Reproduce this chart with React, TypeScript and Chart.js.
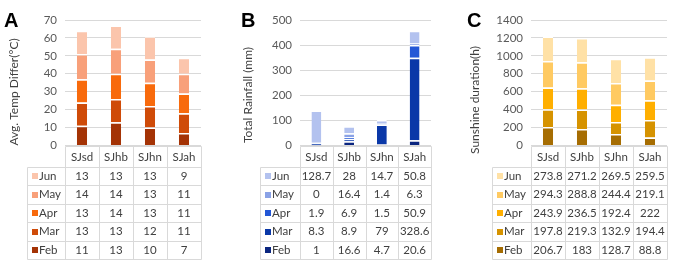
import React, { useEffect, useRef } from 'react';
import { Chart, registerables } from 'chart.js';

Chart.register(...registerables);

// ---- data ----
const stations = ['SJsd', 'SJhb', 'SJhn', 'SJah'];
const months = ['Feb', 'Mar', 'Apr', 'May', 'Jun'];

const tempFeb = [11, 13, 10, 7];
const tempMar = [13, 13, 12, 11];
const tempApr = [13, 14, 13, 11];
const tempMay = [14, 14, 13, 11];
const tempJun = [13, 13, 13, 9];

const rainFeb = [1, 16.6, 4.7, 20.6];
const rainMar = [8.3, 8.9, 79, 328.6];
const rainApr = [1.9, 6.9, 1.5, 50.9];
const rainMay = [0, 16.4, 1.4, 6.3];
const rainJun = [128.7, 28, 14.7, 50.8];

const sunFeb = [206.7, 183, 128.7, 88.8];
const sunMar = [197.8, 219.3, 132.9, 194.4];
const sunApr = [243.9, 236.5, 192.4, 222];
const sunMay = [294.3, 288.8, 244.4, 219.1];
const sunJun = [273.8, 271.2, 269.5, 259.5];

const tempTicks = { max: 70, step: 10 };
const rainTicks = { max: 500, step: 50 };
const sunTicks = { max: 1400, step: 200 };

// ---- styles / layout ----
const FONT = 'Lato, "Noto Sans", sans-serif';
const H = 261;

const panels = [
  {
    letter: 'A',
    title: 'Avg. Temp Differ(°C)',
    series: [tempFeb, tempMar, tempApr, tempMay, tempJun],
    colors: ['#A43305', '#CF4B08', '#F86A0C', '#F8A07A', '#FBC5AC'],
    ticks: tempTicks,
    left: 0, width: 228, plotLeft: 65, plotRight: 201,
    titleX: 14, titleY: 92, letterX: 4, tableLeft: 27,
  },
  {
    letter: 'B',
    title: 'Total Rainfall (mm)',
    series: [rainFeb, rainMar, rainApr, rainMay, rainJun],
    colors: ['#0B2680', '#0A38A8', '#2357D6', '#8AA2E6', '#B3C2EF'],
    ticks: rainTicks,
    left: 228, width: 228, plotLeft: 72, plotRight: 203,
    titleX: 20, titleY: 95, letterX: 13, tableLeft: 32,
  },
  {
    letter: 'C',
    title: 'Sunshine duration(h)',
    series: [sunFeb, sunMar, sunApr, sunMay, sunJun],
    colors: ['#A66D02', '#D69300', '#FFAF00', '#FFCA62', '#FFE1A6'],
    ticks: sunTicks,
    left: 456, width: 229, plotLeft: 75, plotRight: 211,
    titleX: 19, titleY: 100, letterX: 11, tableLeft: 36,
  },
];

const tablePlugin = {
  id: 'tablePlugin',
  afterDraw(chart: any, _args: any, opts: any) {
    const p = opts.panel;
    if (!p) return;
    const ctx = chart.ctx;
    const area = chart.chartArea;
    const n = stations.length;
    const colW = (area.right - area.left) / n;
    const y0 = Math.round(area.bottom) + 0.5;
    const headH = 20;
    const rowH = 18.5;
    const y1 = y0 + headH;
    const yEnd = y1 + rowH * 5;
    const px = (v: number) => Math.round(v) + 0.5;

    ctx.save();
    ctx.strokeStyle = '#D9D9D9';
    ctx.lineWidth = 1;
    ctx.beginPath();
    ctx.moveTo(px(area.left), y0);
    ctx.lineTo(px(area.right), y0);
    for (let r = 0; r <= 5; r++) {
      const y = px(y1 + r * rowH);
      ctx.moveTo(px(p.tableLeft), y);
      ctx.lineTo(px(area.right), y);
    }
    for (let i = 0; i <= n; i++) {
      const x = px(area.left + i * colW);
      ctx.moveTo(x, y0);
      ctx.lineTo(x, px(yEnd));
    }
    ctx.moveTo(px(p.tableLeft), px(y1));
    ctx.lineTo(px(p.tableLeft), px(yEnd));
    ctx.stroke();

    ctx.fillStyle = '#404040';
    ctx.font = `11.5px ${FONT}`;
    ctx.textBaseline = 'middle';
    ctx.textAlign = 'center';
    for (let i = 0; i < n; i++) {
      const cx = area.left + (i + 0.5) * colW;
      ctx.fillText(stations[i], cx, y0 + headH / 2 + 0.5);
    }
    for (let r = 0; r < 5; r++) {
      const mi = 4 - r;
      const cy = y1 + r * rowH + rowH / 2 + 0.5;
      ctx.fillStyle = p.colors[mi];
      ctx.fillRect(p.tableLeft + 5, Math.round(cy - 3), 6, 6);
      ctx.fillStyle = '#404040';
      ctx.textAlign = 'left';
      ctx.fillText(months[mi], p.tableLeft + 12, cy);
      ctx.textAlign = 'center';
      for (let i = 0; i < n; i++) {
        const cx = area.left + (i + 0.5) * colW;
        ctx.fillText(String(p.series[mi][i]), cx, cy);
      }
    }

    // axis title
    ctx.save();
    ctx.translate(p.titleX, p.titleY);
    ctx.rotate(-Math.PI / 2);
    ctx.font = `12px ${FONT}`;
    ctx.fillStyle = '#404040';
    ctx.textAlign = 'center';
    ctx.textBaseline = 'middle';
    ctx.fillText(p.title, 0, 0);
    ctx.restore();

    // panel letter
    ctx.font = 'bold 20px "Liberation Sans", Arial, sans-serif';
    ctx.fillStyle = '#000000';
    ctx.textAlign = 'left';
    ctx.textBaseline = 'alphabetic';
    ctx.fillText(p.letter, p.letterX, 27);
    ctx.restore();
  },
};

function Panel({ p }: { p: any }) {
  const ref = useRef<HTMLCanvasElement>(null);
  useEffect(() => {
    if (!ref.current) return;
    const chart = new Chart(ref.current, {
      type: 'bar',
      data: {
        labels: stations,
        datasets: months.map((m, i) => ({
          label: m,
          data: p.series[i],
          backgroundColor: p.colors[i],
          borderColor: '#FFFFFF',
          borderWidth: { top: 1.5, left: 0, right: 0, bottom: 0 },
          borderSkipped: false,
          categoryPercentage: 1,
          barPercentage: 0.3,
        })),
      },
      options: {
        responsive: false,
        animation: false,
        devicePixelRatio: 1,
        layout: {
          padding: { left: 0, right: p.width - p.plotRight, top: 20, bottom: H - 145.5 },
        },
        plugins: {
          legend: { display: false },
          tooltip: { enabled: false },
          tablePlugin: { panel: p },
        } as any,
        scales: {
          x: {
            display: false,
            stacked: true,
            offset: true,
          },
          y: {
            stacked: true,
            min: 0,
            max: p.ticks.max,
            border: { display: false },
            grid: { color: '#D9D9D9', drawTicks: false },
            ticks: {
              stepSize: p.ticks.step,
              padding: 8,
              color: '#595959',
              font: { family: FONT, size: 11.5 },
              callback: (v: any) => String(v),
            },
            afterFit: (scale: any) => {
              scale.width = p.plotLeft;
            },
          },
        },
      },
      plugins: [tablePlugin],
    });
    return () => chart.destroy();
  }, []);
  return (
    <canvas
      ref={ref}
      width={p.width}
      height={H}
      style={{ position: 'absolute', left: p.left, top: 0, width: p.width, height: H, display: 'block' }}
    />
  );
}

export default function App() {
  return (
    <div style={{ position: 'fixed', left: 0, top: 0, width: 685, height: H, background: '#FFFFFF' }}>
      {panels.map((p) => (
        <Panel key={p.letter} p={p} />
      ))}
    </div>
  );
}
